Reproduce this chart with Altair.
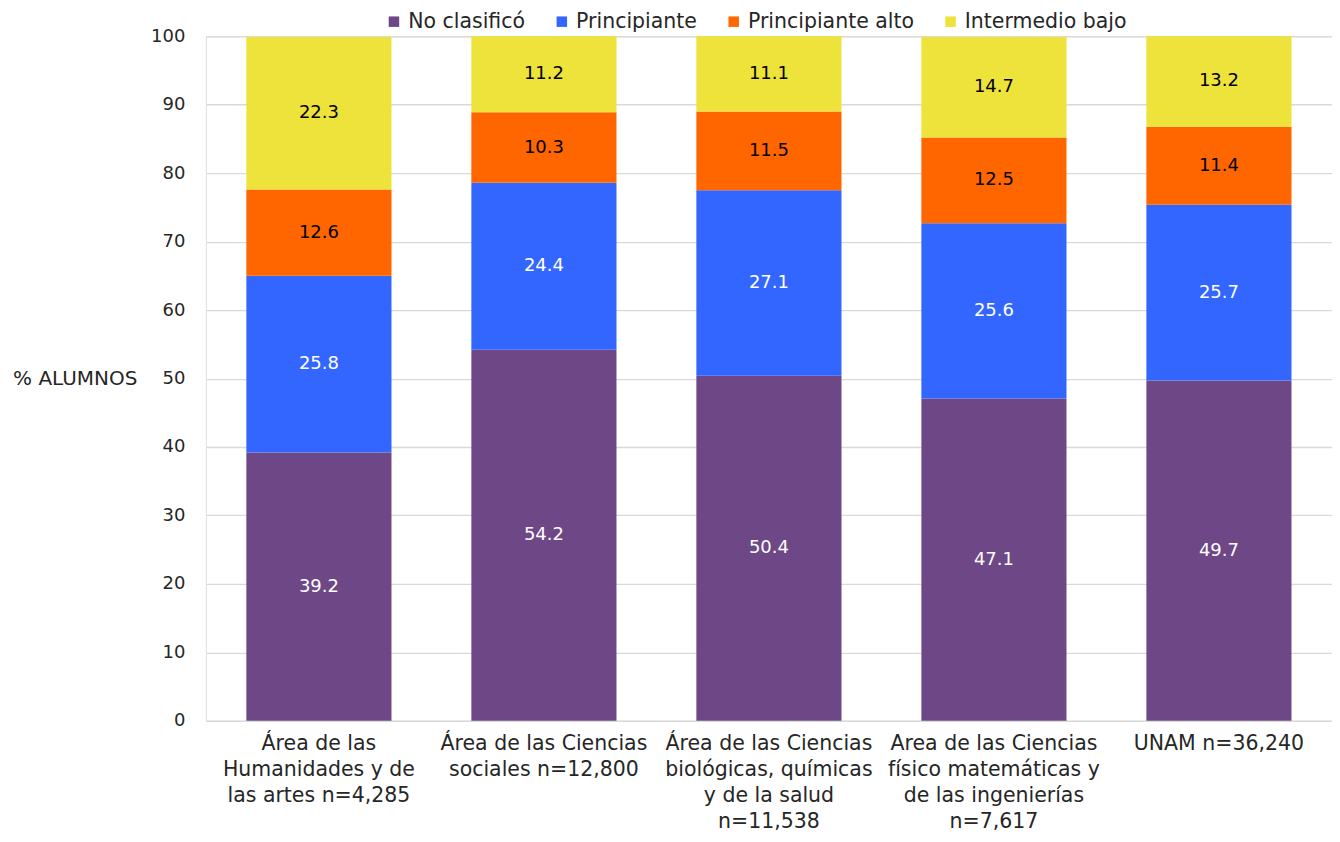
import altair as alt
import pandas as pd

categories = [
    "Área de las|Humanidades y de|las artes n=4,285",
    "Área de las Ciencias|sociales n=12,800",
    "Área de las Ciencias|biológicas, químicas|y de la salud|n=11,538",
    "Area de las Ciencias|físico matemáticas y|de las ingenierías|n=7,617",
    "UNAM n=36,240",
]
series = ["No clasificó", "Principiante", "Principiante alto", "Intermedio bajo"]
colors = ["#6E4886", "#3366FF", "#FF6600", "#EDE33B"]
text_colors = ["white", "white", "black", "black"]

no_clasifico = [39.2, 54.2, 50.4, 47.1, 49.7]
principiante = [25.8, 24.4, 27.1, 25.6, 25.7]
principiante_alto = [12.6, 10.3, 11.5, 12.5, 11.4]
intermedio_bajo = [22.3, 11.2, 11.1, 14.7, 13.2]

values = [no_clasifico, principiante, principiante_alto, intermedio_bajo]
rows = []
for si, s in enumerate(series):
    for ci, c in enumerate(categories):
        rows.append({"cat": c, "serie": s, "value": values[si][ci], "ord": si,
                     "tcolor": text_colors[si]})
df = pd.DataFrame(rows)

FONT = "DejaVu Sans"
FS_NUM = 18
FS_TXT = 20.5
TXT = "#262626"

x_enc = alt.X("cat:N", sort=categories, title=None,
              scale=alt.Scale(paddingInner=0.355, paddingOuter=0.18),
              axis=alt.Axis(labelExpr="split(datum.label, '|')", labelAngle=0,
                            labelFontSize=FS_TXT, labelColor=TXT, labelFont=FONT,
                            labelLineHeight=26, labelPadding=13, labelLimit=400,
                            domain=False, ticks=False, labelBaseline="top"))

bars = alt.Chart(df).mark_bar().encode(
    x=x_enc,
    y=alt.Y("value:Q", stack="zero", title="% ALUMNOS",
            scale=alt.Scale(domain=[0, 100], nice=False, clamp=True),
            axis=alt.Axis(values=list(range(0, 101, 10)), domain=False, ticks=False,
                          labelFontSize=FS_NUM, labelFont=FONT, labelColor=TXT,
                          labelPadding=21, gridColor="#D9D9D9", gridWidth=1.3,
                          titleAngle=0, titleAlign="right", titleBaseline="middle",
                          titleX=-69, titleY=342, titleFontSize=20,
                          titleFontWeight="normal", titleFont=FONT,
                          titleColor=TXT)),
    color=alt.Color("serie:N", scale=alt.Scale(domain=series, range=colors),
                    legend=alt.Legend(title=None, orient="none", direction="horizontal",
                                      legendX=178, legendY=-25, symbolType="square",
                                      symbolSize=110, symbolStrokeWidth=0,
                                      labelFontSize=FS_TXT, labelFont=FONT,
                                      labelColor=TXT, columnPadding=26,
                                      labelOffset=4, labelLimit=300)),
    order=alt.Order("ord:Q", sort="ascending"),
)

labels = alt.Chart(df).transform_stack(
    stack="value", groupby=["cat"], sort=[alt.SortField("ord", order="ascending")],
    as_=["y0", "y1"]
).transform_calculate(
    mid="(datum.y0 + datum.y1) / 2"
).mark_text(fontSize=FS_NUM, font=FONT, baseline="middle").encode(
    x=alt.X("cat:N", sort=categories),
    y=alt.Y("mid:Q"),
    text=alt.Text("value:Q", format=".1f"),
    color=alt.Color("tcolor:N", scale=None),
)

chart = (bars + labels).properties(
    width=1127, height=685,
    padding={"left": 4, "top": 3, "right": 0, "bottom": 0},
).configure_view(stroke=None).configure(font=FONT)

chart.save("out.html", embed_options={"renderer": "svg", "actions": False})
